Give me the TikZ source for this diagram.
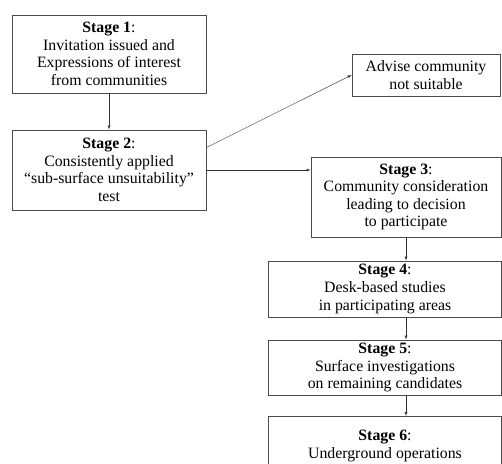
\documentclass[tikz,border=0pt]{standalone}
\usepackage{fontspec}
\setmainfont{Liberation Serif}
\begin{document}
\begin{tikzpicture}[x=1pt,y=-1pt]
\tikzset{cel/.style={draw=black!70,thick,fill=white,inner sep=0pt,align=center,
  font=\fontsize{15.8}{17.6}\selectfont},
stagebox/.style={cel,minimum width=233pt,minimum height=56pt},
}

\useasboundingbox (0,0) rectangle (502,463);

\node[cel,minimum width=194pt,minimum height=78pt] (s1) at (109,54)
  {\textbf{Stage 1}:\\Invitation issued and\\Expressions of interest\\from communities};
\node[cel,minimum width=194pt,minimum height=80pt] (s2) at (109,170)
  {\textbf{Stage 2}:\\Consistently applied\\``sub-surface unsuitability''\\test};
\node[cel,minimum width=148pt,minimum height=42pt] (adv) at (426,75)
  {Advise community\\not suitable};
\node[cel,minimum width=190pt,minimum height=80pt] (s3) at (406,197)
  {\textbf{Stage 3}:\\Community consideration\\leading to decision\\to participate};
\node[stagebox] (s4) at (385,289)
  {\textbf{Stage 4}:\\Desk-based studies\\in participating areas};
\node[stagebox,minimum height=55pt] (s5) at (385,367.5)
  {\textbf{Stage 5}:\\Surface investigations\\on remaining candidates};
\node[stagebox,minimum height=68pt,anchor=north] (s6) at (385,416) {};
\node (s6txt) at (385,446) [align=center,font=\fontsize{15.8}{17.6}\selectfont]
  {\textbf{Stage 6}:\\Underground operations};

\path[->,>=latex,draw,black!80] (s1) -- (s2);
\path[->,>=latex,draw,black!80] (s2.13) -- (adv.west);
\path[->,>=latex,draw,black!80] (s2.east) -- (s2.east -| s3.west);
\path[->,>=latex,draw,black!80] (s3.south) -- (s3.south |- s4.north);
\path[->,>=latex,draw,black!80] (s4.south -| s3) -- (s5.north -| s3);
\path[->,>=latex,draw,black!80] (s5.south -| s3) -- (s6.north -| s3);

\end{tikzpicture}
\end{document}
